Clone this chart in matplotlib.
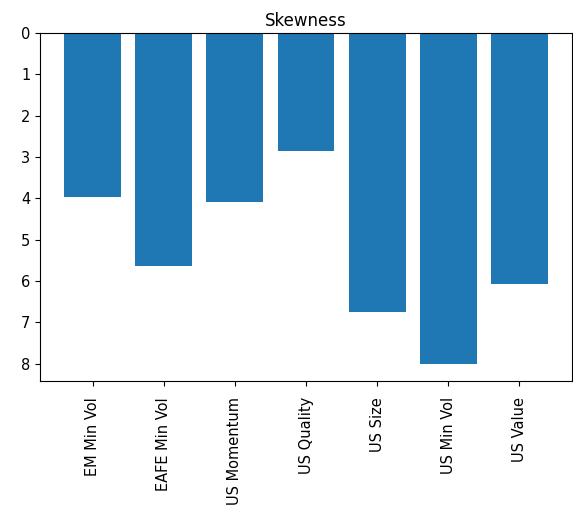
import matplotlib
matplotlib.use("Agg")
import matplotlib.pyplot as plt

# Skewness per fund (axis inverted)
funds = ["EM Min Vol", "EAFE Min Vol", "US Momentum", "US Quality",
         "US Size", "US Min Vol", "US Value"]
skewness = [3.97, 5.65, 4.09, 2.85, 6.74, 8.02, 6.08]

fig = plt.figure(figsize=(5.73, 5.16), dpi=100)
ax = fig.add_axes([40 / 573, 135 / 516, 532 / 573, 348 / 516])

ax.bar(funds, skewness, color="#1f77b4")
ax.invert_yaxis()
ax.set_title("Skewness", fontsize=12, pad=5)
ax.tick_params(labelsize=10.5)
ax.tick_params(axis="x", pad=8)
plt.setp(ax.get_xticklabels(), rotation=90)

fig.savefig("out.png", dpi=100)
plt.close(fig)
